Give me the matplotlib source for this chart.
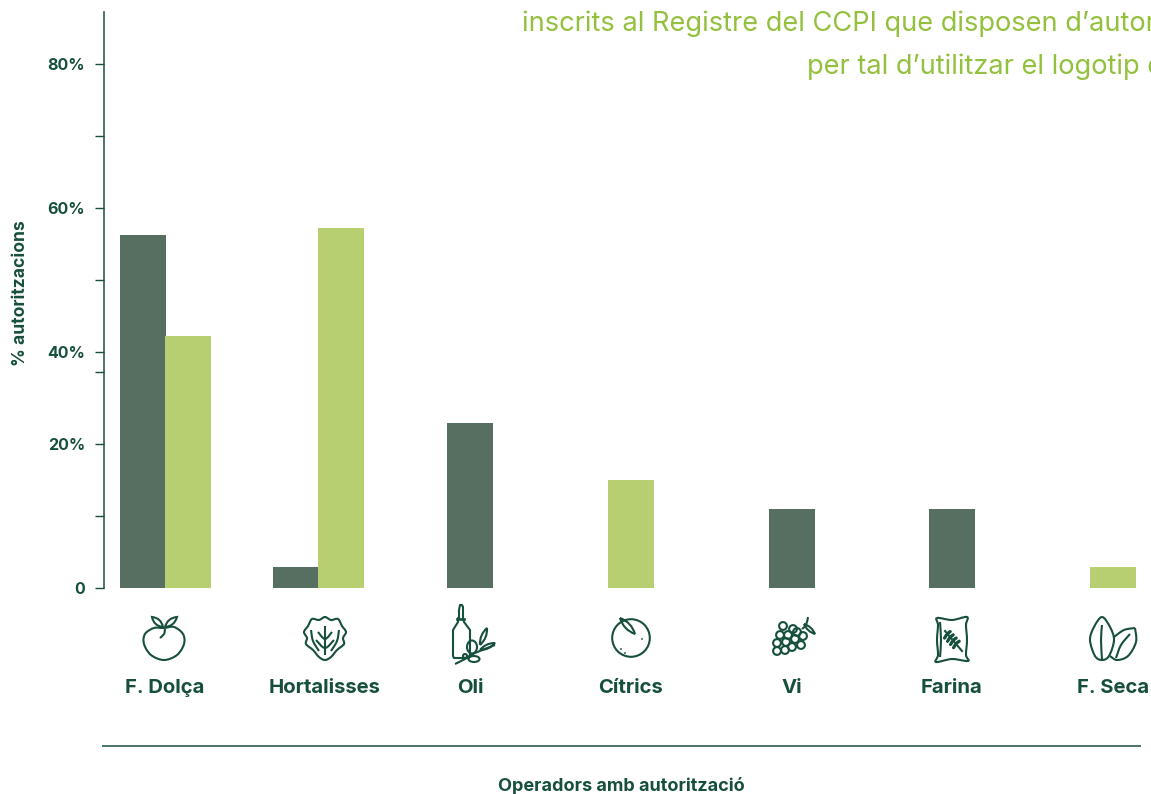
import numpy as np
import matplotlib
matplotlib.use('Agg')
import matplotlib.pyplot as plt
from matplotlib.patches import Circle, Ellipse, PathPatch
from matplotlib.path import Path

# data
categories = ['F. Dolça', 'Hortalisses', 'Oli', 'Cítrics', 'Vi', 'Farina', 'F. Seca']
dark_vals = [56.2, 3, 22.9, 0, 11, 11, 0]
light_vals = [42.2, 57.2, 0, 15, 0, 0, 3]
ytick_vals = [0, 10, 20, 30, 40, 50, 60, 70, 80]
ytick_labels = ['0', '', '20%', '', '40%', '', '60%', '', '80%']

# layout in pixels
W, H = 1151, 794
centers = [165.5, 318.5, 470, 631, 792, 952, 1113]
label_centers = [165, 324.5, 470, 631, 792, 952, 1113]
bar_w = 46
DARK = '#174f3e'
BAR_DARK = '#566f60'
BAR_LIGHT = '#b7cf70'
TITLE = '#93c13e'
FONT = ['Inter', 'DejaVu Sans']
plt.rcParams['font.family'] = FONT


# the y axis of the original is broken between 30 and 40
def forward(v):
    return np.interp(v, [0, 30, 40, 100], [0, 216, 236, 668], left=-1000)


def inverse(p):
    return np.interp(p, [0, 216, 236, 668], [0, 30, 40, 100], left=-100)


fig = plt.figure(figsize=(W / 100, H / 100), dpi=100)
top, bottom = 12, 588.2
ax = fig.add_axes([104 / W, 1 - bottom / H, (W - 104) / W, (bottom - top) / H])
ax.set_yscale('function', functions=(forward, inverse))
ax.set_xlim(104, W)
ax.set_ylim(0, 87.2)

for c, d, l in zip(centers, dark_vals, light_vals):
    # a category with one series keeps its bar centred
    if d and l:
        ax.bar(c - bar_w / 2, d, bar_w, color=BAR_DARK, lw=0)
        ax.bar(c + bar_w / 2 - 1, l, bar_w, color=BAR_LIGHT, lw=0)
    elif d:
        ax.bar(c, d, bar_w, color=BAR_DARK, lw=0)
    elif l:
        ax.bar(c, l, bar_w, color=BAR_LIGHT, lw=0)

for s in ['top', 'right', 'bottom']:
    ax.spines[s].set_visible(False)
ax.spines['left'].set_color(DARK)
ax.spines['left'].set_linewidth(1.1)
ax.set_xticks([])
ax.set_yticks(ytick_vals)
ax.set_yticklabels(ytick_labels, fontsize=11.5, fontweight='bold', color=DARK)
ax.tick_params(axis='y', length=6.5, width=1, color=DARK, pad=7)
ax.yaxis.minorticks_off()

# overlay in pixel coordinates for the texts and icons
ov = fig.add_axes([0, 0, 1, 1], facecolor='none')
ov.set_xlim(0, W)
ov.set_ylim(H, 0)
ov.axis('off')

ov.text(21, 293, '% autoritzacions', rotation=90, ha='center', va='center',
        fontsize=12.6, fontweight='bold', color=DARK)
for c, name in zip(label_centers, categories):
    ov.text(c, 688, name, ha='center', va='center', fontsize=14.6,
            fontweight='bold', color=DARK)
ov.plot([102, 1141], [745.5, 745.5], color=DARK, lw=1.1, solid_capstyle='butt')
ov.text(621.5, 786, 'Operadors amb autorització', ha='center', va='center',
        fontsize=13, fontweight='bold', color=DARK)

ov.text(522, 24, 'inscrits al Registre del CCPI que disposen d’autor',
        ha='left', va='center', fontsize=19.6, fontweight='normal', color=TITLE)
ov.text(807, 67, 'per tal d’utilitzar el logotip d',
        ha='left', va='center', fontsize=19.6, fontweight='normal', color=TITLE)

LW = 1.5
ic = dict(fill=False, ec=DARK, lw=LW)


def curve(pts, closed=False):
    # smooth line through the points, as one catmull-rom path
    pts = np.array(pts, float)
    if closed:
        p = np.vstack([pts[-1], pts, pts[:2]])
    else:
        p = np.vstack([pts[0], pts, pts[-1]])
    verts = [p[1]]
    codes = [Path.MOVETO]
    for i in range(1, len(p) - 2):
        verts += [p[i] + (p[i + 1] - p[i - 1]) / 6, p[i + 1] - (p[i + 2] - p[i]) / 6, p[i + 1]]
        codes += [Path.CURVE4] * 3
    ov.add_patch(PathPatch(Path(verts, codes), **ic))


def leaf(a, b, w):
    # pointed leaf between a and b
    a, b = np.array(a, float), np.array(b, float)
    n = np.array([-(b - a)[1], (b - a)[0]])
    n = n / np.hypot(*n) * w
    m = (a + b) / 2
    verts = [a, m + n, b, m - n, a]
    codes = [Path.MOVETO, Path.CURVE3, Path.CURVE3, Path.CURVE3, Path.CURVE3]
    ov.add_patch(PathPatch(Path(verts, codes), **ic))


# peach
curve([(164, 628), (174, 627), (183, 634), (184, 644), (177, 655), (164, 660),
       (151, 655), (144, 644), (145, 634), (154, 628)], closed=True)
leaf((163, 627), (152, 617), 5.5)
leaf((165, 627), (177, 617), 5.5)
curve([(165, 629), (164, 634), (160, 638)])

# lettuce
curve([(325, 660), (319, 657), (313, 650), (306, 644), (307, 638), (304, 632), (308, 626),
       (312, 619), (319, 620), (325, 617), (331, 620), (338, 619), (342, 626), (346, 632),
       (343, 638), (344, 644), (337, 650), (331, 657)], closed=True)
curve([(325, 626), (325, 655)])
curve([(318, 632), (325, 639), (332, 632)])
curve([(316, 640), (325, 648), (334, 640)])
curve([(311, 630), (313, 641), (319, 651)])
curve([(339, 630), (337, 641), (331, 651)])

# bottle and olive branch
ov.plot([459, 459, 460, 462, 463, 463, 464, 470, 470, 468, 454, 453, 453, 458, 458, 459],
        [618, 610, 605, 605, 607, 618, 622, 630, 655, 658, 658, 656, 630, 622, 618, 618],
        color=DARK, lw=LW, solid_joinstyle='round')
ov.plot([457.5, 464.5], [618.5, 618.5], color=DARK, lw=LW + 0.4)
curve([(455, 664), (465, 659), (475, 653), (495, 645)])
leaf((480, 645), (487, 628), 4.5)
leaf((480, 650), (495, 643), 4)
ov.add_patch(Ellipse((472, 647), 10, 13, **ic))
ov.add_patch(Ellipse((474, 659), 11, 6, **ic))
ov.add_patch(Ellipse((465, 656), 4, 4, **ic))

# citrus
ov.add_patch(Circle((631, 638), 18.8, **ic))
leaf((620, 618), (635, 634), 5.5)
for dx, dy in [(-10, 11), (-6, 15), (11, 1)]:
    ov.add_patch(Circle((631 + dx, 638 + dy), 0.9, color=DARK, lw=0))

# grapes
grapes_x = [783, 793, 780, 788, 797, 803, 777, 786, 795, 801, 777, 785, 792]
grapes_y = [626, 629, 635, 635, 632, 636, 643, 642, 639, 645, 651, 650, 647]
for gx, gy in zip(grapes_x, grapes_y):
    ov.add_patch(Circle((gx, gy), 3.9, **ic))
curve([(802, 629), (806, 625), (808, 617)])
leaf((804, 624), (815, 634), 3.5)

# flour sack
curve([(937, 618), (952, 620), (967, 617), (966, 625), (967, 640), (966, 655), (968, 661),
       (952, 659), (936, 662), (938, 655), (937, 640), (938, 625)], closed=True)
curve([(940, 622), (941, 640), (940, 657)])
ov.plot([945, 962], [631, 651], color=DARK, lw=LW)
for k in range(4):
    bx, by = 947 + 3 * k, 634 + 3.2 * k
    leaf((bx, by), (bx - 3, by + 5), 1.5)
    leaf((bx, by), (bx + 4, by - 3), 1.5)

# almonds
curve([(1102, 617), (1110, 627), (1114, 640), (1109, 656), (1102, 660), (1095, 656),
       (1090, 640), (1094, 627)], closed=True)
curve([(1102, 625), (1101, 640), (1102, 659)])
curve([(1135, 628), (1136, 642), (1128, 656), (1117, 660), (1110, 656)])
curve([(1135, 628), (1124, 630), (1114, 637)])
curve([(1130, 634), (1121, 645), (1116, 658)])

fig.savefig('out.png', dpi=100)
